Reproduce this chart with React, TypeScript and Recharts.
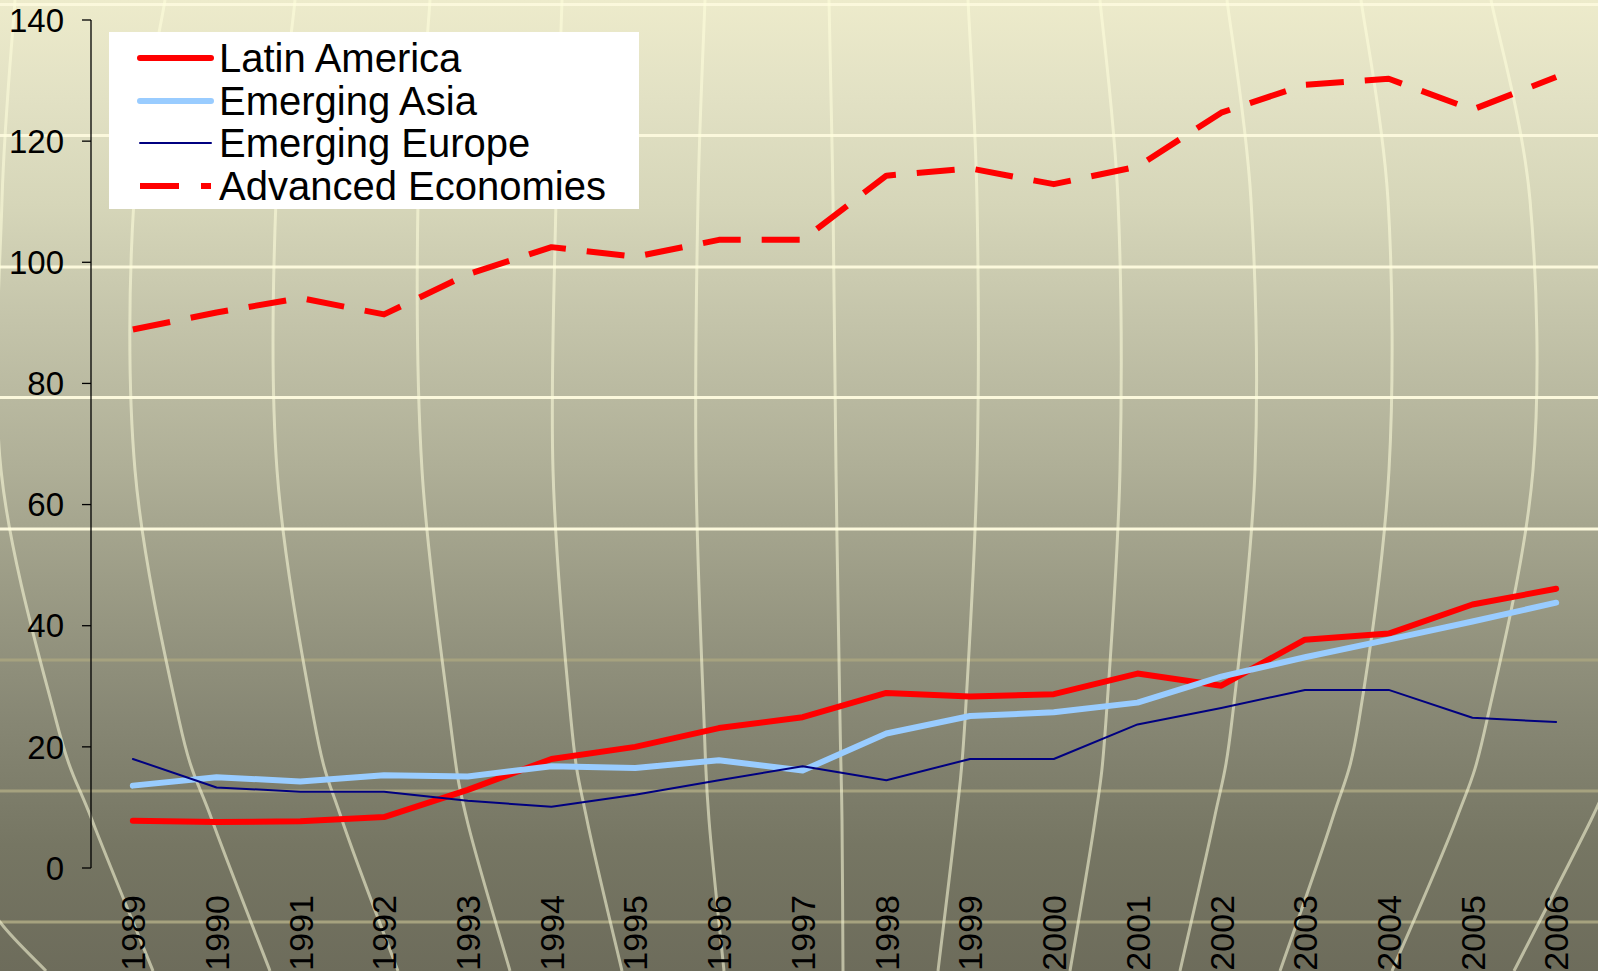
import React from 'react';
import { LineChart, Line, XAxis, YAxis, Legend } from 'recharts';

const YEARS = ['1989', '1990', '1991', '1992', '1993', '1994', '1995', '1996', '1997', '1998', '1999', '2000', '2001', '2002', '2003', '2004', '2005', '2006'];
const LATIN_AMERICA = [7.8, 7.6, 7.7, 8.4, 12.9, 18.0, 20.0, 23.1, 24.9, 28.9, 28.3, 28.7, 32.1, 30.1, 37.7, 38.7, 43.5, 46.1];
const EMERGING_ASIA = [13.6, 15.0, 14.3, 15.3, 15.1, 16.8, 16.5, 17.8, 16.1, 22.2, 25.1, 25.7, 27.3, 31.6, 34.8, 37.7, 40.7, 43.8];
const EMERGING_EUROPE = [18.0, 13.3, 12.6, 12.6, 11.1, 10.1, 12.1, 14.5, 16.8, 14.5, 18.0, 18.0, 23.7, 26.4, 29.4, 29.4, 24.8, 24.1];
const ADVANCED_ECONOMIES = [88.9, 91.7, 94.1, 91.4, 98.0, 102.5, 100.9, 103.7, 103.7, 114.3, 115.5, 112.9, 115.8, 124.7, 129.3, 130.3, 125.2, 130.6];
const Y_TICKS = [0, 20, 40, 60, 80, 100, 120, 140];

const SERIES = [
  { key: 'latin', name: 'Latin America', color: '#ff0000', width: 6, dash: undefined as string | undefined },
  { key: 'asia', name: 'Emerging Asia', color: '#99ccff', width: 6, dash: undefined as string | undefined },
  { key: 'europe', name: 'Emerging Europe', color: '#000080', width: 2, dash: undefined as string | undefined },
  { key: 'advanced', name: 'Advanced Economies', color: '#ff0000', width: 6, dash: '38 21' },
];

const data = YEARS.map((year, i) => ({
  year,
  idx: i,
  latin: LATIN_AMERICA[i],
  asia: EMERGING_ASIA[i],
  europe: EMERGING_EUROPE[i],
  advanced: ADVANCED_ECONOMIES[i],
}));

const BOUNDARIES = YEARS.map((_, i) => i).concat([YEARS.length]);

const FONT = '"Liberation Sans", Arial, sans-serif';

// decorative background (globe meridians)
const MERIDIANS: number[][][] = [
  [[15, 0], [2, 200], [1, 470], [56, 720], [92, 820], [153, 971]],
  [[165, 0], [134, 200], [135, 470], [179, 720], [212, 820], [270, 971]],
  [[295, 0], [276, 200], [277, 470], [314, 720], [342, 820], [398, 971]],
  [[430, 0], [418, 200], [422, 470], [450, 720], [467, 820], [510, 971]],
  [[562, 0], [556, 200], [553, 470], [571, 720], [587, 820], [622, 971]],
  [[705, 0], [698, 200], [696, 470], [704, 720], [709, 820], [724, 971]],
  [[829, 0], [833, 200], [836, 470], [840, 720], [842, 820], [843, 971]],
  [[968, 0], [977, 200], [977, 470], [965, 720], [956, 820], [938, 971]],
  [[1100, 0], [1118, 200], [1120, 470], [1106, 720], [1095, 820], [1070, 971]],
  [[1227, 0], [1251, 200], [1255, 470], [1232, 720], [1214, 820], [1180, 971]],
  [[1361, 0], [1388, 200], [1389, 470], [1359, 720], [1332, 820], [1280, 971]],
  [[1491, 0], [1530, 200], [1533, 470], [1487, 720], [1456, 820], [1392, 971]],
  [[1640, 700], [1610, 775], [1591, 820], [1514, 971]],
  [[-20, 880], [0, 922], [46, 971]],
];
const BRIGHT_BANDS = [4.5, 135.6, 267, 397.6, 529];
const DIM_BANDS = [660, 791, 922];

function smoothPath(pts: number[][]): string {
  let d = `M${pts[0][0]},${pts[0][1]}`;
  for (let i = 0; i < pts.length - 1; i++) {
    const p0 = pts[i - 1] || pts[i];
    const p1 = pts[i];
    const p2 = pts[i + 1];
    const p3 = pts[i + 2] || p2;
    const c1x = p1[0] + (p2[0] - p0[0]) / 6;
    const c1y = p1[1] + (p2[1] - p0[1]) / 6;
    const c2x = p2[0] - (p3[0] - p1[0]) / 6;
    const c2y = p2[1] - (p3[1] - p1[1]) / 6;
    d += ` C${c1x},${c1y} ${c2x},${c2y} ${p2[0]},${p2[1]}`;
  }
  return d;
}

const YearTick = (props: any) => {
  const { x, y, payload } = props;
  return (
    <text
      x={0}
      y={0}
      transform={`translate(${x},${y + 27}) rotate(-90)`}
      textAnchor="end"
      dy="0.36em"
      fontSize={34}
      fill="#000"
      fontFamily={FONT}
    >
      {payload.value}
    </text>
  );
};

const LegendBox = () => (
  <div
    style={{
      background: '#ffffff',
      width: 530,
      height: 177,
      boxSizing: 'border-box',
      paddingTop: 5,
      fontFamily: FONT,
    }}
  >
    {SERIES.map((s) => (
      <div key={s.key} style={{ display: 'flex', alignItems: 'center', height: 42.5 }}>
        <svg width={110} height={20} style={{ display: 'block' }}>
          <line
            x1={31}
            y1={10}
            x2={102}
            y2={10}
            stroke={s.color}
            strokeWidth={s.width}
            strokeDasharray={s.dash ? '39 22' : undefined}
            strokeLinecap={s.dash ? 'butt' : 'round'}
          />
        </svg>
        <span style={{ fontSize: 40, color: '#000', lineHeight: '42px' }}>{s.name}</span>
      </div>
    ))}
  </div>
);

export default function App() {
  return (
    <div
      style={{
        position: 'absolute',
        left: 0,
        top: 0,
        width: 1598,
        height: 971,
        overflow: 'hidden',
        background:
          'linear-gradient(to bottom, #edebcb 0%, #e2e1c4 10%, #d6d6b9 21%, #c4c4aa 33%, #afaf97 48%, #9c9c86 60%, #878774 74%, #767663 87%, #6d6c5b 100%)',
      }}
    >
      <svg width={1598} height={971} style={{ position: 'absolute', left: 0, top: 0 }}>
        {BRIGHT_BANDS.map((y) => (
          <line key={`b${y}`} x1={0} x2={1598} y1={y} y2={y} stroke="#fbf8dc" strokeWidth={3} />
        ))}
        {DIM_BANDS.map((y) => (
          <line key={`d${y}`} x1={0} x2={1598} y1={y} y2={y} stroke="#a6a27f" strokeWidth={3} />
        ))}
        {MERIDIANS.map((m, i) => (
          <path key={i} d={smoothPath(m)} fill="none" stroke="rgba(255,255,220,0.55)" strokeWidth={3} />
        ))}
      </svg>
      <div style={{ position: 'absolute', left: 0, top: 0 }}>
        <LineChart width={1598} height={971} data={data} margin={{ top: 20, right: 0, bottom: 0, left: 0 }}>
          <XAxis
            xAxisId="bounds"
            type="number"
            dataKey="idx"
            domain={[0, YEARS.length]}
            ticks={BOUNDARIES}
            tick={false}
            tickSize={9}
            height={0}
            axisLine={{ stroke: '#000', strokeWidth: 1.3 }}
            tickLine={{ stroke: '#000', strokeWidth: 1.3 }}
            allowDataOverflow
          />
          <XAxis
            xAxisId="cat"
            dataKey="year"
            scale="band"
            interval={0}
            height={103}
            axisLine={false}
            tickLine={false}
            tickSize={0}
            tickMargin={0}
            tick={<YearTick />}
          />
          <YAxis
            domain={[0, 140]}
            ticks={Y_TICKS}
            width={91}
            tickSize={9}
            tickMargin={18}
            axisLine={{ stroke: '#000', strokeWidth: 1.3 }}
            tickLine={{ stroke: '#000', strokeWidth: 1.3 }}
            tick={{ fontSize: 33, fill: '#000', fontFamily: FONT }}
            interval={0}
          />
          <Legend
            layout="horizontal"
            verticalAlign="middle"
            align="center"
            content={<LegendBox />}
            wrapperStyle={{ position: 'absolute', left: 109, top: 32, width: 530, height: 177 }}
          />
          {SERIES.map((s) => (
            <Line
              key={s.key}
              xAxisId="cat"
              type="linear"
              dataKey={s.key}
              name={s.name}
              stroke={s.color}
              strokeWidth={s.width}
              strokeDasharray={s.dash}
              dot={false}
              activeDot={false}
              isAnimationActive={false}
              strokeLinejoin="round"
              strokeLinecap={s.dash ? 'butt' : 'round'}
            />
          ))}
        </LineChart>
      </div>
    </div>
  );
}
